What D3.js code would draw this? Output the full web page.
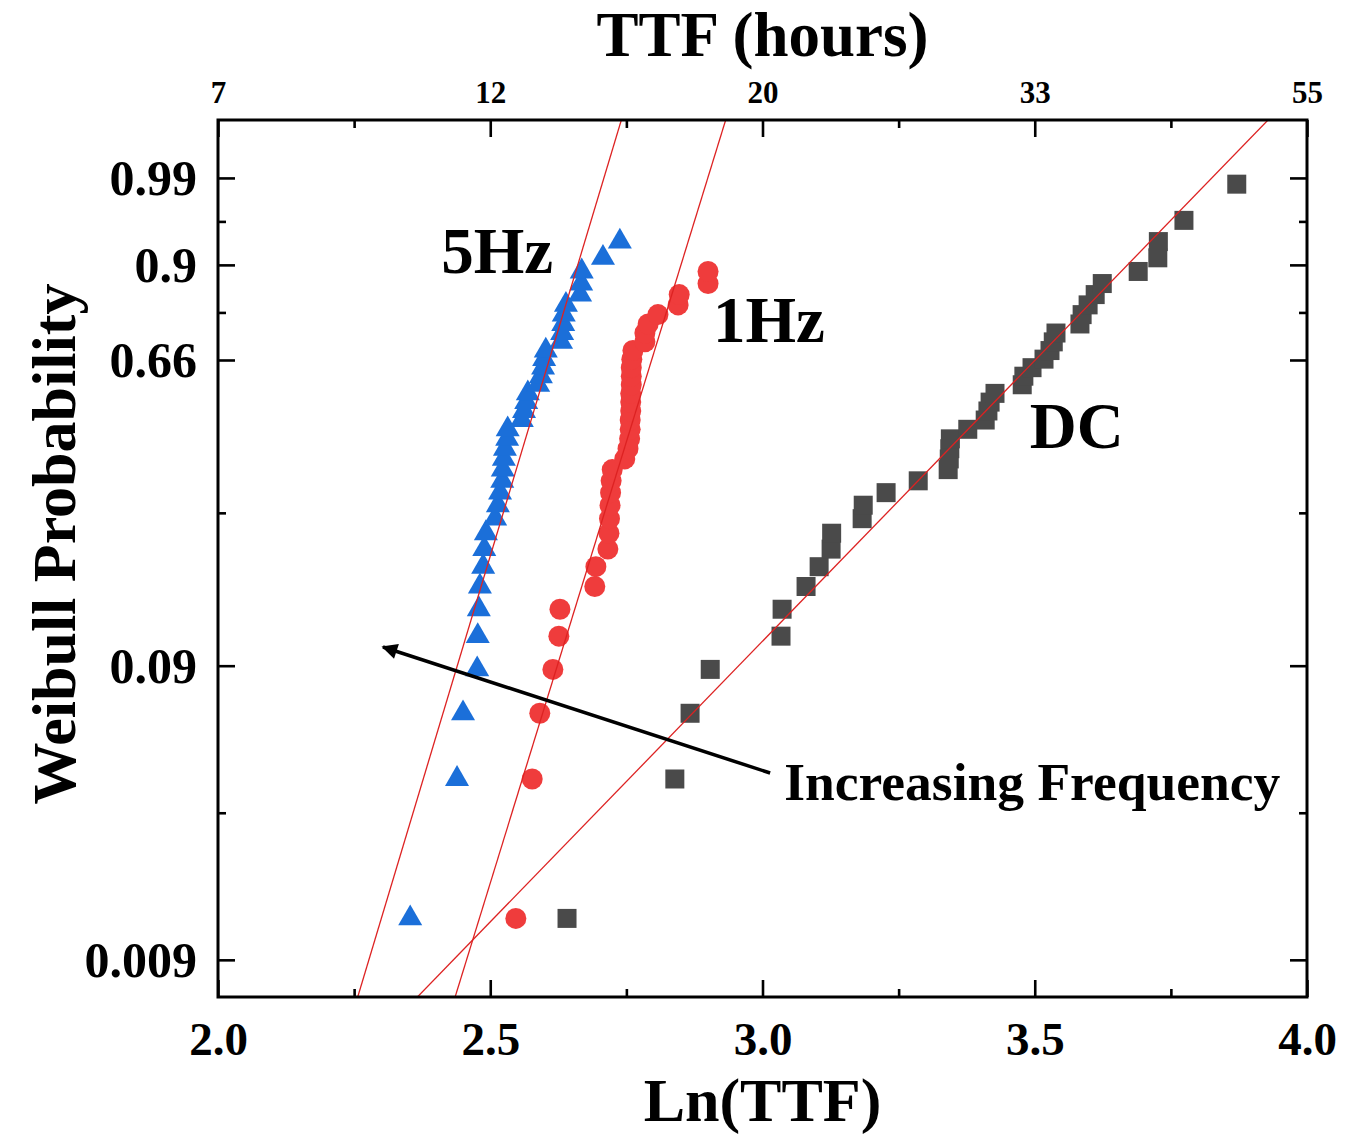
<!DOCTYPE html>
<html>
<head>
<meta charset="utf-8">
<script src="https://cdn.jsdelivr.net/npm/d3@7"></script>
<style>
  body { margin: 0; background: #fff; }
  svg { display: block; }
</style>
</head>
<body>
<svg id="chart" width="1365" height="1138"></svg>
<script>
// Median-rank failure probabilities, one per ordered failure
const probLevels = [0.0125, 0.0375, 0.0625, 0.0875, 0.1125, 0.1375, 0.1625, 0.1875, 0.2125, 0.2375,
                    0.2625, 0.2875, 0.3125, 0.3375, 0.3625, 0.3875, 0.4125, 0.4375, 0.4625, 0.4875,
                    0.5125, 0.5375, 0.5625, 0.5875, 0.6125, 0.6375, 0.6625, 0.6875, 0.7125, 0.7375,
                    0.7625, 0.7875, 0.8125, 0.8375, 0.8625, 0.8875, 0.9125, 0.9375, 0.9625, 0.9875];

// ln(time to failure) for each ordered failure
const dcLnTTF = [2.641, 2.839, 2.867, 2.904, 3.034, 3.036, 3.080, 3.104, 3.126, 3.127,
                 3.183, 3.185, 3.227, 3.286, 3.341, 3.343, 3.344, 3.345, 3.377, 3.409,
                 3.414, 3.418, 3.427, 3.477, 3.480, 3.495, 3.517, 3.528, 3.534, 3.539,
                 3.583, 3.587, 3.598, 3.611, 3.624, 3.690, 3.726, 3.727, 3.774, 3.871];
const hz1LnTTF = [2.547, 2.577, 2.591, 2.615, 2.626, 2.628, 2.692, 2.694, 2.716, 2.718,
                  2.719, 2.720, 2.721, 2.722, 2.724, 2.747, 2.753, 2.756, 2.757, 2.757,
                  2.758, 2.758, 2.758, 2.759, 2.759, 2.759, 2.760, 2.762, 2.784, 2.784,
                  2.790, 2.808, 2.845, 2.847, 2.900, 2.900];
const hz5LnTTF = [2.353, 2.439, 2.450, 2.476, 2.477, 2.479, 2.481, 2.487, 2.489, 2.492,
                  2.509, 2.514, 2.518, 2.522, 2.523, 2.525, 2.527, 2.531, 2.532, 2.558,
                  2.562, 2.566, 2.569, 2.588, 2.593, 2.597, 2.599, 2.602, 2.630, 2.632,
                  2.634, 2.635, 2.639, 2.665, 2.667, 2.668, 2.707, 2.738];

// Weibull fits: W = beta * (ln t - ln eta)
const seriesNames = ["DC", "1Hz", "5Hz"];
const fitBeta = [4.475, 14.07, 14.44];
const fitLnEta = [3.484, 2.791, 2.603];

// Axis ticks
const xTicks = [2.0, 2.5, 3.0, 3.5, 4.0];
const xTickLabels = ["2.0", "2.5", "3.0", "3.5", "4.0"];
const topTickLabels = ["7", "12", "20", "33", "55"];
const yTickProbs = [0.009, 0.09, 0.66, 0.9, 0.99];
const yTickLabels = ["0.009", "0.09", "0.66", "0.9", "0.99"];

// Annotation positions (ln TTF, probability)
const labelText = ["5Hz", "1Hz", "DC"];
const labelLnTTF = [2.410, 2.909, 3.491];
const labelProb = [0.884, 0.712, 0.414];
const arrowFrom = [3.014, 0.0393];
const arrowTo = [2.303, 0.1037];
const noteText = "Increasing Frequency";
const notePos = [3.040, 0.0318];

// ---------------------------------------------------------------
const serif = "'Liberation Serif', 'Times New Roman', serif";
const box = { left: 218, right: 1307, top: 120, bottom: 997 };
const weib = p => Math.log(-Math.log(1 - p));

const x = d3.scaleLinear().domain([2, 4]).range([box.left, box.right]);
const yW = d3.scaleLinear().domain([weib(0.0067), weib(0.99933)]).range([box.bottom, box.top]);
const y = p => yW(weib(p));

const svg = d3.select("#chart");
svg.append("defs").append("clipPath").attr("id", "plotClip")
  .append("rect")
  .attr("x", box.left).attr("y", box.top)
  .attr("width", box.right - box.left).attr("height", box.bottom - box.top);

// arrow head
svg.select("defs").append("marker")
  .attr("id", "arrowHead")
  .attr("viewBox", "0 0 10 10")
  .attr("refX", 9).attr("refY", 5)
  .attr("markerWidth", 6).attr("markerHeight", 4.5)
  .attr("markerUnits", "strokeWidth")
  .attr("orient", "auto")
  .append("path").attr("d", "M0,0 L10,5 L0,10 Z").attr("fill", "#000");

// ---------------- axes ----------------
const majorW = yTickProbs.map(weib);
const minorW = d3.pairs(majorW).map(([a, b]) => (a + b) / 2);
const minorX = d3.pairs(xTicks).map(([a, b]) => (a + b) / 2);

function styleAxis(g) {
  g.select(".domain").remove();
  g.selectAll(".tick line").attr("stroke", "#000").attr("stroke-width", 2.6);
}

// bottom
const gBottom = svg.append("g").attr("transform", `translate(0,${box.bottom})`)
  .call(d3.axisBottom(x).tickValues(xTicks).tickSize(-17).tickPadding(0)
    .tickFormat((d, i) => xTickLabels[i]));
styleAxis(gBottom);
gBottom.selectAll(".tick text")
  .attr("y", 58).attr("dy", 0)
  .attr("font-family", serif).attr("font-weight", "bold").attr("font-size", 47).attr("fill", "#000");
svg.append("g").attr("transform", `translate(0,${box.bottom})`)
  .call(d3.axisBottom(x).tickValues(minorX).tickSize(-8).tickFormat(""))
  .call(styleAxis);

// top (hours)
const gTop = svg.append("g").attr("transform", `translate(0,${box.top})`)
  .call(d3.axisTop(x).tickValues(xTicks).tickSize(-17).tickPadding(0)
    .tickFormat((d, i) => topTickLabels[i]));
styleAxis(gTop);
gTop.selectAll(".tick text")
  .attr("y", -17).attr("dy", 0)
  .attr("font-family", serif).attr("font-weight", "bold").attr("font-size", 31).attr("fill", "#000");
svg.append("g").attr("transform", `translate(0,${box.top})`)
  .call(d3.axisTop(x).tickValues(minorX).tickSize(-8).tickFormat(""))
  .call(styleAxis);

// left
const gLeft = svg.append("g").attr("transform", `translate(${box.left},0)`)
  .call(d3.axisLeft(yW).tickValues(majorW).tickSize(-17).tickPadding(0)
    .tickFormat((d, i) => yTickLabels[i]));
styleAxis(gLeft);
gLeft.selectAll(".tick text")
  .attr("x", -21).attr("dy", "0.34em")
  .attr("font-family", serif).attr("font-weight", "bold").attr("font-size", 50).attr("fill", "#000");
svg.append("g").attr("transform", `translate(${box.left},0)`)
  .call(d3.axisLeft(yW).tickValues(minorW).tickSize(-8).tickFormat(""))
  .call(styleAxis);

// right
svg.append("g").attr("transform", `translate(${box.right},0)`)
  .call(d3.axisRight(yW).tickValues(majorW).tickSize(-17).tickFormat(""))
  .call(styleAxis);
svg.append("g").attr("transform", `translate(${box.right},0)`)
  .call(d3.axisRight(yW).tickValues(minorW).tickSize(-8).tickFormat(""))
  .call(styleAxis);

// ---------------- data ----------------
const plot = svg.append("g").attr("clip-path", "url(#plotClip)");

const toPoints = arr => arr.map((v, i) => ({ lnt: v, p: probLevels[i] }));

// DC squares
plot.append("g").selectAll("path")
  .data(toPoints(dcLnTTF)).join("path")
  .attr("transform", d => `translate(${x(d.lnt)},${y(d.p)})`)
  .attr("d", d3.symbol(d3.symbolSquare, 19 * 19))
  .attr("fill", "#4a4a4a");

// 1Hz circles
plot.append("g").selectAll("circle")
  .data(toPoints(hz1LnTTF)).join("circle")
  .attr("cx", d => x(d.lnt)).attr("cy", d => y(d.p)).attr("r", 10.5)
  .attr("fill", "#ef3c3c");

// 5Hz triangles
plot.append("g").selectAll("path")
  .data(toPoints(hz5LnTTF)).join("path")
  .attr("transform", d => `translate(${x(d.lnt)},${y(d.p)})`)
  .attr("d", d3.symbol(d3.symbolTriangle, 250))
  .attr("fill", "#1b6fd9");

// Weibull fit lines
const fitLine = d3.line();
seriesNames.forEach((name, k) => {
  const ends = x.domain().map(v => [x(v), yW(fitBeta[k] * (v - fitLnEta[k]))]);
  plot.append("path")
    .attr("d", fitLine(ends))
    .attr("fill", "none").attr("stroke", "#dd2222").attr("stroke-width", 1.3);
});

// ---------------- frame ----------------
svg.append("rect")
  .attr("x", box.left).attr("y", box.top)
  .attr("width", box.right - box.left).attr("height", box.bottom - box.top)
  .attr("fill", "none").attr("stroke", "#000").attr("stroke-width", 3);

// ---------------- annotations ----------------
svg.append("g").selectAll("text")
  .data(labelText).join("text")
  .attr("x", (d, i) => x(labelLnTTF[i]))
  .attr("y", (d, i) => y(labelProb[i]))
  .attr("font-family", serif).attr("font-weight", "bold").attr("font-size", 65)
  .attr("fill", "#000")
  .text(d => d);

svg.append("line")
  .attr("x1", x(arrowFrom[0])).attr("y1", y(arrowFrom[1]))
  .attr("x2", x(arrowTo[0])).attr("y2", y(arrowTo[1]))
  .attr("stroke", "#000").attr("stroke-width", 3.5)
  .attr("marker-end", "url(#arrowHead)");

svg.append("text")
  .attr("x", x(notePos[0])).attr("y", y(notePos[1]))
  .attr("font-family", serif).attr("font-weight", "bold").attr("font-size", 53.5)
  .attr("fill", "#000")
  .text(noteText);

// ---------------- axis titles ----------------
svg.append("text")
  .attr("x", (box.left + box.right) / 2).attr("y", 56)
  .attr("text-anchor", "middle")
  .attr("font-family", serif).attr("font-weight", "bold").attr("font-size", 63)
  .text("TTF (hours)");

svg.append("text")
  .attr("x", (box.left + box.right) / 2).attr("y", 1121)
  .attr("text-anchor", "middle")
  .attr("font-family", serif).attr("font-weight", "bold").attr("font-size", 62)
  .text("Ln(TTF)");

svg.append("text")
  .attr("transform", `translate(75,544) rotate(-90)`)
  .attr("text-anchor", "middle")
  .attr("font-family", serif).attr("font-weight", "bold").attr("font-size", 62)
  .text("Weibull Probability");
</script>
</body>
</html>
